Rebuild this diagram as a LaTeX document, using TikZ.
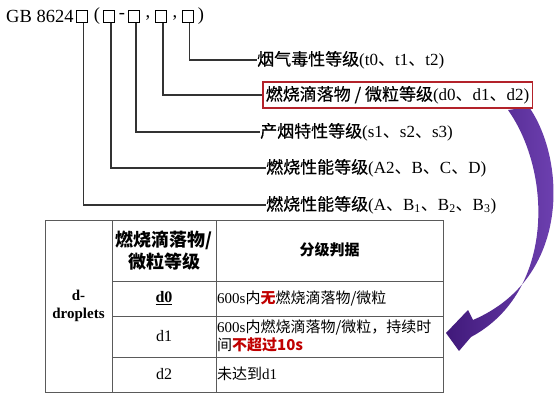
\documentclass[tikz,border=0pt]{standalone}
\usepackage{fontspec}
\setmainfont{Liberation Serif}
\newfontfamily\cjk{Noto Sans CJK SC}
\newfontfamily\cjkfb[FakeBold=0.4]{Noto Sans CJK SC}
\newcommand\zh[1]{{\cjk #1}}
\newcommand\zb[1]{{\cjkfb #1}}
\definecolor{linegray}{HTML}{333333}
\definecolor{boxred}{HTML}{B3222A}
\definecolor{tabred}{HTML}{C00000}
\definecolor{arrowdark}{HTML}{40197A}
\definecolor{arrowlight}{HTML}{7446B8}
\definecolor{tabline}{HTML}{5A5A5A}
\begin{document}
\begin{tikzpicture}[x=1pt,y=-1pt,
  conn/.style={draw=linegray, line width=1.1pt},
  sq/.style={draw=black, line width=0.9pt, minimum width=11pt, minimum height=12pt, inner sep=0pt, fill=white},
  lbl/.style={anchor=west, inner sep=0pt, font=\fontsize{17}{19}\selectfont},
  punc/.style={inner sep=0pt, font=\fontsize{18.5}{21}\selectfont},
  tline/.style={draw=tabline, line width=0.9pt},
  cell/.style={inner sep=0pt, font=\fontsize{15}{18}\selectfont},
]
\useasboundingbox[fill=white] (0,0) rectangle (557,401);

% ---- code line ----
\node[punc, anchor=west] (gb) at (6,16) {GB 8624};
\node[sq] (b1) at (82,16.5) {};
\node[punc] (p1) at (97,16) {(};
\node[sq] (b2) at (108.5,16.5) {};
\node[punc] (p2) at (122,16) {-};
\node[sq] (b3) at (133.5,16.5) {};
\node[punc] (p3) at (148,18) {,};
\node[sq] (b4) at (161,16.5) {};
\node[punc] (p4) at (175,18) {,};
\node[sq] (b5) at (187.5,16.5) {};
\node[punc] (p5) at (201,16) {)};

% ---- labels ----
\node[lbl] (t) at (257,60) {\zb{烟气毒性等级}(t0\zh{、}t1\zh{、}t2)};
\node[lbl] (s) at (260,132) {\zb{产烟特性等级}(s1\zh{、}s2\zh{、}s3)};
\node[lbl] (a2) at (266,168) {\zb{燃烧性能等级}(A2\zh{、}B\zh{、}C\zh{、}D)};
\node[lbl] (a) at (266,205) {\zb{燃烧性能等级}(A\zh{、}B\textsubscript{1}\zh{、}B\textsubscript{2}\zh{、}B\textsubscript{3})};

% ---- purple arrow ----
\shade[left color=arrowdark, right color=arrowlight]
  (508,110) -- (529,107) .. controls (566,160) and (571,278) .. (473,320)
  -- (468,310) -- (446,333) -- (459,351) -- (471,337)
  .. controls (555,292) and (552,172) .. (508,110) -- cycle;

\node[lbl, draw=boxred, line width=1.5pt, inner xsep=3pt, inner ysep=4pt, fill=white] (d) at (262,95)
  {\zb{燃烧滴落物 / 微粒等级}(d0\zh{、}d1\zh{、}d2)};

% ---- connectors ----
\draw[conn] ([xshift=2pt]b5.south) |- (t.west);
\draw[conn] ([xshift=2pt]b4.south) |- (d.west);
\draw[conn] ([xshift=2.5pt]b3.south) |- (s.west);
\draw[conn] ([xshift=2.5pt]b2.south) |- (a2.west);
\draw[conn] ([xshift=1.5pt]b1.south) |- (a.west);

% ---- table ----
\draw[tline] (45,220) rectangle (443,392);
\draw[tline] (112,220) -- (112,392);
\draw[tline] (216,220) -- (216,392);
\draw[tline] (112,281) -- (443,281);
\draw[tline] (112,316) -- (443,316);
\draw[tline] (112,357) -- (443,357);

\node[cell, align=center, font=\fontsize{15}{18}\selectfont\bfseries] (dd) at (78.5,306) {d-\\droplets};
\node[cell, align=center, font=\fontsize{18}{22}\selectfont\bfseries\cjk] (h2) at (164,251) {燃烧滴落物/\\微粒等级};
\node[cell, font=\fontsize{15}{18}\selectfont\bfseries\cjk] (h3) at (329.5,250) {分级判据};
\node[cell, font=\fontsize{16}{18}\selectfont\bfseries] (d0) at (164,298) {\underline{d0}};
\node[cell, anchor=west] (r1) at (217,298) {600s\zh{内}{\cjk\bfseries\color{tabred}无}\zh{燃烧滴落物/微粒}};
\node[cell, font=\fontsize{16}{18}\selectfont] (d1) at (164,336) {d1};
\node[cell, anchor=west, align=left] (r2) at (217,336) {600s\zh{内燃烧滴落物/微粒，持续时}\\\zh{间}{\cjk\bfseries\color{tabred}不超过10s}};
\node[cell, font=\fontsize{16}{18}\selectfont] (d2) at (164,374) {d2};
\node[cell, anchor=west] (r3) at (217,374) {\zh{未达到}d1};
\end{tikzpicture}
\end{document}
